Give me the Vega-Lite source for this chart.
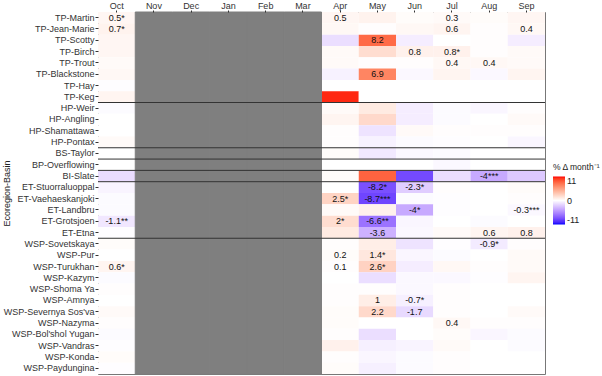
{
  "$schema": "https://vega.github.io/schema/vega-lite/v6.json",
  "width": 447,
  "height": 362,
  "autosize": {"type": "none"},
  "padding": {"left": 98, "top": 12, "right": 57, "bottom": 2},
  "config": {"font": "Liberation Sans", "view": {"stroke": "#777", "strokeWidth": 1}},
  "datasets": {
    "cells": [
      {"b":"TP-Martin","m":"Oct","v":0.5,"t":"0.5*"},{"b":"TP-Martin","m":"Apr","v":0.5,"t":"0.5"},{"b":"TP-Martin","m":"May","v":0.7},{"b":"TP-Martin","m":"Jun","v":0.2},{"b":"TP-Martin","m":"Jul","v":0.3,"t":"0.3"},{"b":"TP-Martin","m":"Aug","v":0.2},{"b":"TP-Martin","m":"Sep","v":0.5},
      {"b":"TP-Jean-Marie","m":"Oct","v":0.7,"t":"0.7*"},{"b":"TP-Jean-Marie","m":"Apr","v":0.4},{"b":"TP-Jean-Marie","m":"May","v":0.1},{"b":"TP-Jean-Marie","m":"Jun","v":0.4},{"b":"TP-Jean-Marie","m":"Jul","v":0.6,"t":"0.6"},{"b":"TP-Jean-Marie","m":"Aug","v":0.1},{"b":"TP-Jean-Marie","m":"Sep","v":0.4,"t":"0.4"},
      {"b":"TP-Scotty","m":"Oct","v":0.5},{"b":"TP-Scotty","m":"Apr","v":-1.5},{"b":"TP-Scotty","m":"May","v":8.2,"t":"8.2"},{"b":"TP-Scotty","m":"Jun","v":-0.8},{"b":"TP-Scotty","m":"Jul","v":0},{"b":"TP-Scotty","m":"Aug","v":0.1},{"b":"TP-Scotty","m":"Sep","v":-0.8},
      {"b":"TP-Birch","m":"Oct","v":0.5},{"b":"TP-Birch","m":"Apr","v":0.3},{"b":"TP-Birch","m":"May","v":2.0},{"b":"TP-Birch","m":"Jun","v":0.8,"t":"0.8"},{"b":"TP-Birch","m":"Jul","v":0.8,"t":"0.8*"},{"b":"TP-Birch","m":"Aug","v":0.1},{"b":"TP-Birch","m":"Sep","v":0.3},
      {"b":"TP-Trout","m":"Oct","v":0.3},{"b":"TP-Trout","m":"Apr","v":0.3},{"b":"TP-Trout","m":"May","v":0.1},{"b":"TP-Trout","m":"Jun","v":0.1},{"b":"TP-Trout","m":"Jul","v":0.4,"t":"0.4"},{"b":"TP-Trout","m":"Aug","v":0.4,"t":"0.4"},{"b":"TP-Trout","m":"Sep","v":0.3},
      {"b":"TP-Blackstone","m":"Oct","v":0.4},{"b":"TP-Blackstone","m":"Apr","v":-0.6},{"b":"TP-Blackstone","m":"May","v":6.9,"t":"6.9"},{"b":"TP-Blackstone","m":"Jun","v":-0.3},{"b":"TP-Blackstone","m":"Jul","v":0.6},{"b":"TP-Blackstone","m":"Aug","v":-0.3},{"b":"TP-Blackstone","m":"Sep","v":0.6},
      {"b":"TP-Hay","m":"Oct","v":-0.1},{"b":"TP-Hay","m":"Apr","v":0},{"b":"TP-Hay","m":"May","v":0},{"b":"TP-Hay","m":"Jun","v":0},{"b":"TP-Hay","m":"Jul","v":0},{"b":"TP-Hay","m":"Aug","v":0},{"b":"TP-Hay","m":"Sep","v":0},
      {"b":"TP-Keg","m":"Oct","v":0.6},{"b":"TP-Keg","m":"Apr","v":10.5},{"b":"TP-Keg","m":"May","v":0},{"b":"TP-Keg","m":"Jun","v":0},{"b":"TP-Keg","m":"Jul","v":0},{"b":"TP-Keg","m":"Aug","v":0},{"b":"TP-Keg","m":"Sep","v":0},
      {"b":"HP-Weir","m":"Oct","v":-0.2},{"b":"HP-Weir","m":"Apr","v":0.3},{"b":"HP-Weir","m":"May","v":1.2},{"b":"HP-Weir","m":"Jun","v":-0.8},{"b":"HP-Weir","m":"Jul","v":-0.2},{"b":"HP-Weir","m":"Aug","v":-0.4},{"b":"HP-Weir","m":"Sep","v":0.1},
      {"b":"HP-Angling","m":"Oct","v":0},{"b":"HP-Angling","m":"Apr","v":0.6},{"b":"HP-Angling","m":"May","v":2.2},{"b":"HP-Angling","m":"Jun","v":-0.8},{"b":"HP-Angling","m":"Jul","v":-0.2},{"b":"HP-Angling","m":"Aug","v":0},{"b":"HP-Angling","m":"Sep","v":0.3},
      {"b":"HP-Shamattawa","m":"Oct","v":0},{"b":"HP-Shamattawa","m":"Apr","v":0.1},{"b":"HP-Shamattawa","m":"May","v":-1.3},{"b":"HP-Shamattawa","m":"Jun","v":0.3},{"b":"HP-Shamattawa","m":"Jul","v":0.1},{"b":"HP-Shamattawa","m":"Aug","v":0.1},{"b":"HP-Shamattawa","m":"Sep","v":0.1},
      {"b":"HP-Pontax","m":"Oct","v":0.3},{"b":"HP-Pontax","m":"Apr","v":0.1},{"b":"HP-Pontax","m":"May","v":-0.6},{"b":"HP-Pontax","m":"Jun","v":-0.2},{"b":"HP-Pontax","m":"Jul","v":-0.1},{"b":"HP-Pontax","m":"Aug","v":0},{"b":"HP-Pontax","m":"Sep","v":-0.4},
      {"b":"BS-Taylor","m":"Oct","v":0},{"b":"BS-Taylor","m":"Apr","v":0.2},{"b":"BS-Taylor","m":"May","v":-1.0},{"b":"BS-Taylor","m":"Jun","v":-0.3},{"b":"BS-Taylor","m":"Jul","v":-0.2},{"b":"BS-Taylor","m":"Aug","v":0},{"b":"BS-Taylor","m":"Sep","v":0},
      {"b":"BP-Overflowing","m":"Oct","v":0},{"b":"BP-Overflowing","m":"Apr","v":0},{"b":"BP-Overflowing","m":"May","v":0},{"b":"BP-Overflowing","m":"Jun","v":0},{"b":"BP-Overflowing","m":"Jul","v":-0.3},{"b":"BP-Overflowing","m":"Aug","v":0},{"b":"BP-Overflowing","m":"Sep","v":0},
      {"b":"BI-Slate","m":"Oct","v":-1.6},{"b":"BI-Slate","m":"Apr","v":0.2},{"b":"BI-Slate","m":"May","v":8.5},{"b":"BI-Slate","m":"Jun","v":-8.5},{"b":"BI-Slate","m":"Jul","v":-1.5},{"b":"BI-Slate","m":"Aug","v":-4,"t":"-4***"},{"b":"BI-Slate","m":"Sep","v":-2.5},
      {"b":"ET-Stuorraluoppal","m":"Oct","v":-0.5},{"b":"ET-Stuorraluoppal","m":"Apr","v":0},{"b":"ET-Stuorraluoppal","m":"May","v":-8.2,"t":"-8.2*"},{"b":"ET-Stuorraluoppal","m":"Jun","v":-2.3,"t":"-2.3*"},{"b":"ET-Stuorraluoppal","m":"Jul","v":0.1},{"b":"ET-Stuorraluoppal","m":"Aug","v":0},{"b":"ET-Stuorraluoppal","m":"Sep","v":0.2},
      {"b":"ET-Vaehaeskanjoki","m":"Oct","v":-0.2},{"b":"ET-Vaehaeskanjoki","m":"Apr","v":2.5,"t":"2.5*"},{"b":"ET-Vaehaeskanjoki","m":"May","v":-8.7,"t":"-8.7***"},{"b":"ET-Vaehaeskanjoki","m":"Jun","v":-0.2},{"b":"ET-Vaehaeskanjoki","m":"Jul","v":-0.1},{"b":"ET-Vaehaeskanjoki","m":"Aug","v":0},{"b":"ET-Vaehaeskanjoki","m":"Sep","v":0.1},
      {"b":"ET-Landbru","m":"Oct","v":-0.2},{"b":"ET-Landbru","m":"Apr","v":0.3},{"b":"ET-Landbru","m":"May","v":0.8},{"b":"ET-Landbru","m":"Jun","v":-4,"t":"-4*"},{"b":"ET-Landbru","m":"Jul","v":-0.1},{"b":"ET-Landbru","m":"Aug","v":0},{"b":"ET-Landbru","m":"Sep","v":-0.3,"t":"-0.3***"},
      {"b":"ET-Grotsjoen","m":"Oct","v":-1.1,"t":"-1.1**"},{"b":"ET-Grotsjoen","m":"Apr","v":2,"t":"2*"},{"b":"ET-Grotsjoen","m":"May","v":-6.6,"t":"-6.6**"},{"b":"ET-Grotsjoen","m":"Jun","v":-0.4},{"b":"ET-Grotsjoen","m":"Jul","v":0},{"b":"ET-Grotsjoen","m":"Aug","v":-0.2},{"b":"ET-Grotsjoen","m":"Sep","v":0},
      {"b":"ET-Etna","m":"Oct","v":-0.1},{"b":"ET-Etna","m":"Apr","v":1.2},{"b":"ET-Etna","m":"May","v":-3.6,"t":"-3.6"},{"b":"ET-Etna","m":"Jun","v":-0.3},{"b":"ET-Etna","m":"Jul","v":0.3},{"b":"ET-Etna","m":"Aug","v":0.6,"t":"0.6"},{"b":"ET-Etna","m":"Sep","v":0.8,"t":"0.8"},
      {"b":"WSP-Sovetskaya","m":"Oct","v":0.2},{"b":"WSP-Sovetskaya","m":"Apr","v":0.1},{"b":"WSP-Sovetskaya","m":"May","v":1.0},{"b":"WSP-Sovetskaya","m":"Jun","v":-1.3},{"b":"WSP-Sovetskaya","m":"Jul","v":-0.1},{"b":"WSP-Sovetskaya","m":"Aug","v":-0.9,"t":"-0.9*"},{"b":"WSP-Sovetskaya","m":"Sep","v":0.1},
      {"b":"WSP-Pur","m":"Oct","v":0},{"b":"WSP-Pur","m":"Apr","v":0.2,"t":"0.2"},{"b":"WSP-Pur","m":"May","v":1.4,"t":"1.4*"},{"b":"WSP-Pur","m":"Jun","v":-0.4},{"b":"WSP-Pur","m":"Jul","v":-0.2},{"b":"WSP-Pur","m":"Aug","v":0},{"b":"WSP-Pur","m":"Sep","v":0.3},
      {"b":"WSP-Turukhan","m":"Oct","v":0.6,"t":"0.6*"},{"b":"WSP-Turukhan","m":"Apr","v":0.1,"t":"0.1"},{"b":"WSP-Turukhan","m":"May","v":2.6,"t":"2.6*"},{"b":"WSP-Turukhan","m":"Jun","v":-0.8},{"b":"WSP-Turukhan","m":"Jul","v":0.4},{"b":"WSP-Turukhan","m":"Aug","v":0.1},{"b":"WSP-Turukhan","m":"Sep","v":0.3},
      {"b":"WSP-Kazym","m":"Oct","v":-0.2},{"b":"WSP-Kazym","m":"Apr","v":0},{"b":"WSP-Kazym","m":"May","v":-1.5},{"b":"WSP-Kazym","m":"Jun","v":-0.3},{"b":"WSP-Kazym","m":"Jul","v":-0.3},{"b":"WSP-Kazym","m":"Aug","v":-0.1},{"b":"WSP-Kazym","m":"Sep","v":0.6},
      {"b":"WSP-Shoma Ya","m":"Oct","v":0.1},{"b":"WSP-Shoma Ya","m":"Apr","v":0.1},{"b":"WSP-Shoma Ya","m":"May","v":0.1},{"b":"WSP-Shoma Ya","m":"Jun","v":-0.3},{"b":"WSP-Shoma Ya","m":"Jul","v":0.1},{"b":"WSP-Shoma Ya","m":"Aug","v":0},{"b":"WSP-Shoma Ya","m":"Sep","v":0},
      {"b":"WSP-Amnya","m":"Oct","v":0},{"b":"WSP-Amnya","m":"Apr","v":0.1},{"b":"WSP-Amnya","m":"May","v":1,"t":"1"},{"b":"WSP-Amnya","m":"Jun","v":-0.7,"t":"-0.7*"},{"b":"WSP-Amnya","m":"Jul","v":0.1},{"b":"WSP-Amnya","m":"Aug","v":0},{"b":"WSP-Amnya","m":"Sep","v":0},
      {"b":"WSP-Severnya Sos'va","m":"Oct","v":0.3},{"b":"WSP-Severnya Sos'va","m":"Apr","v":0.2},{"b":"WSP-Severnya Sos'va","m":"May","v":2.2,"t":"2.2"},{"b":"WSP-Severnya Sos'va","m":"Jun","v":-1.7,"t":"-1.7"},{"b":"WSP-Severnya Sos'va","m":"Jul","v":0.1},{"b":"WSP-Severnya Sos'va","m":"Aug","v":0},{"b":"WSP-Severnya Sos'va","m":"Sep","v":0.3},
      {"b":"WSP-Nazyma","m":"Oct","v":0.1},{"b":"WSP-Nazyma","m":"Apr","v":0.2},{"b":"WSP-Nazyma","m":"May","v":0},{"b":"WSP-Nazyma","m":"Jun","v":0},{"b":"WSP-Nazyma","m":"Jul","v":0.4,"t":"0.4"},{"b":"WSP-Nazyma","m":"Aug","v":0.1},{"b":"WSP-Nazyma","m":"Sep","v":0.1},
      {"b":"WSP-Bol'shol Yugan","m":"Oct","v":-0.2},{"b":"WSP-Bol'shol Yugan","m":"Apr","v":0.1},{"b":"WSP-Bol'shol Yugan","m":"May","v":-1.5},{"b":"WSP-Bol'shol Yugan","m":"Jun","v":0},{"b":"WSP-Bol'shol Yugan","m":"Jul","v":0.2},{"b":"WSP-Bol'shol Yugan","m":"Aug","v":-0.4},{"b":"WSP-Bol'shol Yugan","m":"Sep","v":-0.2},
      {"b":"WSP-Vandras","m":"Oct","v":-0.1},{"b":"WSP-Vandras","m":"Apr","v":0.8},{"b":"WSP-Vandras","m":"May","v":-0.7},{"b":"WSP-Vandras","m":"Jun","v":-0.5},{"b":"WSP-Vandras","m":"Jul","v":0.3},{"b":"WSP-Vandras","m":"Aug","v":0},{"b":"WSP-Vandras","m":"Sep","v":-0.2},
      {"b":"WSP-Konda","m":"Oct","v":0.2},{"b":"WSP-Konda","m":"Apr","v":0.1},{"b":"WSP-Konda","m":"May","v":-0.4},{"b":"WSP-Konda","m":"Jun","v":-0.2},{"b":"WSP-Konda","m":"Jul","v":0.1},{"b":"WSP-Konda","m":"Aug","v":0},{"b":"WSP-Konda","m":"Sep","v":0},
      {"b":"WSP-Paydungina","m":"Oct","v":-0.1},{"b":"WSP-Paydungina","m":"Apr","v":0.2},{"b":"WSP-Paydungina","m":"May","v":-0.7},{"b":"WSP-Paydungina","m":"Jun","v":-0.2},{"b":"WSP-Paydungina","m":"Jul","v":0.1},{"b":"WSP-Paydungina","m":"Aug","v":0},{"b":"WSP-Paydungina","m":"Sep","v":0}
    ],
    "gray": [{"m":"Nov"},{"m":"Dec"},{"m":"Jan"},{"m":"Feb"},{"m":"Mar"}],
    "seps": [{"b":"HP-Weir"},{"b":"BS-Taylor"},{"b":"BP-Overflowing"},{"b":"BI-Slate"},{"b":"ET-Stuorraluoppal"},{"b":"WSP-Sovetskaya"}]
  },
  "encoding": {
    "x": {"field": "m", "type": "nominal", "title": null,
      "scale": {"domain": ["Oct","Nov","Dec","Jan","Feb","Mar","Apr","May","Jun","Jul","Aug","Sep"], "paddingInner": 0, "paddingOuter": 0},
      "axis": {"orient": "top", "labelAngle": 0, "labelFontSize": 9, "labelColor": "#333", "tickSize": 2, "tickColor": "#333", "labelPadding": 0, "domain": false}},
    "y": {"field": "b", "type": "nominal", "title": "Ecoregion-Basin",
      "scale": {"domain": ["TP-Martin","TP-Jean-Marie","TP-Scotty","TP-Birch","TP-Trout","TP-Blackstone","TP-Hay","TP-Keg","HP-Weir","HP-Angling","HP-Shamattawa","HP-Pontax","BS-Taylor","BP-Overflowing","BI-Slate","ET-Stuorraluoppal","ET-Vaehaeskanjoki","ET-Landbru","ET-Grotsjoen","ET-Etna","WSP-Sovetskaya","WSP-Pur","WSP-Turukhan","WSP-Kazym","WSP-Shoma Ya","WSP-Amnya","WSP-Severnya Sos'va","WSP-Nazyma","WSP-Bol'shol Yugan","WSP-Vandras","WSP-Konda","WSP-Paydungina"], "paddingInner": 0, "paddingOuter": 0},
      "axis": {"labelFontSize": 9, "labelColor": "#333", "tickSize": 3, "tickColor": "#333", "labelPadding": 1, "domain": false, "titleFontSize": 9, "titleFontWeight": "normal", "titleColor": "#222", "titleX": -87, "titleY": 181, "titleAlign": "center", "titleAngle": -90}}
  },
  "layer": [
    {
      "data": {"name": "cells"},
      "mark": {"type": "rect"},
      "encoding": {
        "color": {"field": "v", "type": "quantitative",
          "scale": {"domain": [-11, 0, 11], "range": ["#0000ff", "#ffffff", "#ff0000"], "interpolate": "lab", "clamp": true},
          "legend": {"orient": "none", "legendX": 455, "legendY": 151, "title": "% Δ month⁻¹", "titleFontSize": 8.5, "titleFontWeight": "normal", "titleColor": "#222", "gradientLength": 48, "gradientThickness": 12, "values": [-11, 0, 11], "labelExpr": "replace(datum.label, '−', '-')", "labelFontSize": 9, "labelColor": "#222", "direction": "vertical", "gradientStrokeWidth": 0}}
      }
    },
    {
      "data": {"name": "gray"},
      "mark": {"type": "rect", "color": "#7f7f7f", "stroke": "#7f7f7f", "strokeWidth": 1},
      "encoding": {"y": null}
    },
    {
      "data": {"name": "seps"},
      "mark": {"type": "rule", "color": "#333", "strokeWidth": 1},
      "encoding": {"x": null, "y": {"field": "b", "type": "nominal", "bandPosition": 0}}
    },
    {
      "data": {"name": "cells"},
      "transform": [{"filter": "datum.t != null"}],
      "mark": {"type": "text", "fontSize": 9, "color": "#111"},
      "encoding": {"text": {"field": "t"}}
    }
  ]
}
